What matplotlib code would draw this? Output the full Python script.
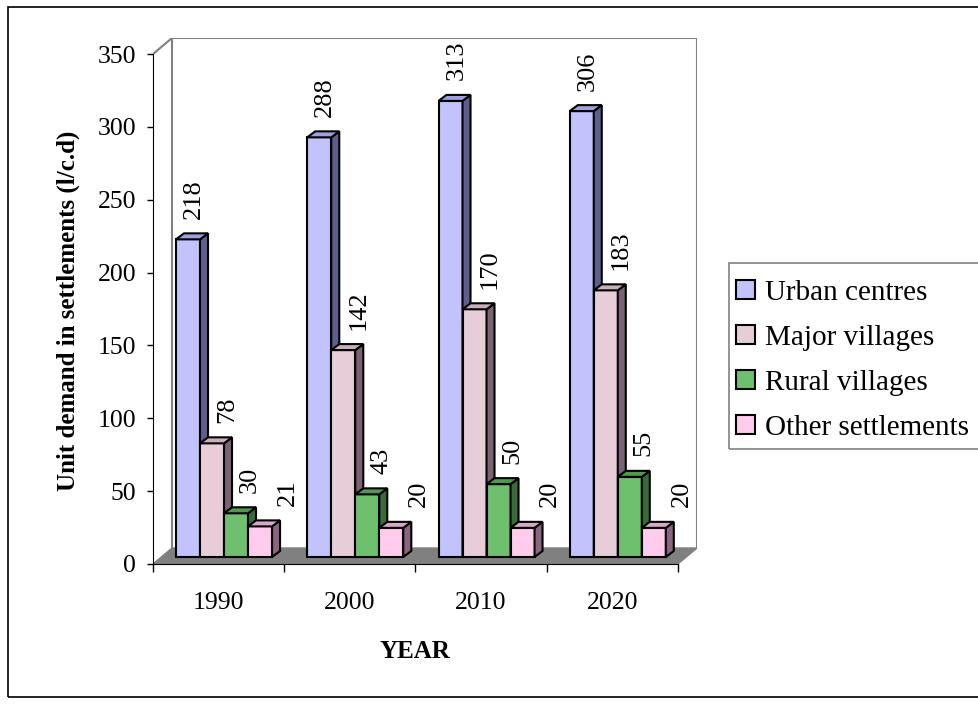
import matplotlib
matplotlib.use("Agg")
import matplotlib.pyplot as plt
from matplotlib.patches import Polygon, Rectangle, Patch

# ---- data -------------------------------------------------------------
years = ["1990", "2000", "2010", "2020"]
series_names = ["Urban centres", "Major villages", "Rural villages", "Other settlements"]
urban_centres = [218, 288, 313, 306]
major_villages = [78, 142, 170, 183]
rural_villages = [30, 43, 50, 55]
other_settlements = [21, 20, 20, 20]
y_ticks = [0, 50, 100, 150, 200, 250, 300, 350]

series_values = [urban_centres, major_villages, rural_villages, other_settlements]

# ---- style ------------------------------------------------------------
SERIF = "Liberation Serif"
front_colors = ["#C2C2FC", "#E6CDD8", "#6EBF6E", "#FFCCEE"]
side_colors = ["#5F5F8F", "#7A6272", "#3A6A3A", "#8A6480"]
top_colors = ["#A0A0DC", "#C9AEBB", "#4F9A4F", "#D9A8C8"]
label_nudge = [0.015, 0.085, 0.075, 0.18]   # horizontal nudge of value labels (category units)

W, H = 979, 704
fig = plt.figure(figsize=(W / 100, H / 100), dpi=100)
fig.patch.set_facecolor("white")

# plot area (pixel box of the 3-D frame)
left_px, right_px, top_px, bottom_px = 153, 697, 38, 564
ax = fig.add_axes([left_px / W, (H - bottom_px) / H,
                   (right_px - left_px) / W, (bottom_px - top_px) / H])

n_cat = len(years)
ymax = y_ticks[-1]
cat_px = 131.2
unit_px = 1.457
DX = 19 / cat_px          # depth of the floor / walls
DY = 16 / unit_px
BW = 24 / cat_px          # bar width
BX = 23 / cat_px          # offset of the first bar in a group
BY = 7 / unit_px          # bars stand in the middle of the floor
DDX = 8 / cat_px          # depth of each bar
DDY = 6 / unit_px

ax.set_xlim(0, n_cat + DX)
ax.set_ylim(0, ymax + DY)
ax.patch.set_alpha(0)

grey = "#808080"
# floor
ax.add_patch(Polygon([(0, 0), (n_cat, 0), (n_cat + DX, DY), (DX, DY)],
                     closed=True, facecolor=grey, edgecolor=grey, lw=1, zorder=1))
# back wall
ax.plot([DX, DX, n_cat + DX, n_cat + DX], [DY, ymax + DY, ymax + DY, DY],
        color=grey, lw=1.5, zorder=1, solid_joinstyle="miter")
ax.plot([0, DX], [ymax, ymax + DY], color=grey, lw=1.5, zorder=1)

# bars: front faces through ax.bar, side and top faces from the same values
for i in range(n_cat):
    for j, vals in enumerate(series_values):
        v = vals[i]
        x0 = i + BX + j * BW
        z = 3 + j
        ax.bar(x0, v, width=BW, bottom=BY, align="edge",
               facecolor=front_colors[j], edgecolor="black", lw=1.5, zorder=z)
        top = BY + v
        ax.add_patch(Polygon([(x0 + BW, BY), (x0 + BW + DDX, BY + DDY),
                              (x0 + BW + DDX, top + DDY), (x0 + BW, top)],
                             closed=True, facecolor=side_colors[j],
                             edgecolor="black", lw=1.5, zorder=z))
        ax.add_patch(Polygon([(x0, top), (x0 + BW, top),
                              (x0 + BW + DDX, top + DDY), (x0 + DDX, top + DDY)],
                             closed=True, facecolor=top_colors[j],
                             edgecolor="black", lw=1.5, zorder=z))
        ax.text(x0 + (BW + DDX) / 2 + label_nudge[j], top + DDY + 10, f"{v}",
                rotation=90, ha="center", va="bottom", fontfamily=SERIF,
                fontsize=19, zorder=10)

# axes lines and ticks
for s in ["top", "right"]:
    ax.spines[s].set_visible(False)
ax.spines["left"].set_bounds(0, ymax)
ax.spines["bottom"].set_bounds(0, n_cat)
ax.spines["left"].set_zorder(2)
ax.spines["bottom"].set_zorder(2)
ax.set_yticks(y_ticks)
ax.set_yticklabels([str(t) for t in y_ticks], fontfamily=SERIF, fontsize=18.5)
ax.tick_params(axis="y", direction="out", length=4, width=1, pad=8)
ax.set_xticks([i + 0.5 for i in range(n_cat)])
ax.set_xticklabels(years, fontfamily=SERIF, fontsize=18.5)
ax.set_xticks(range(n_cat + 1), minor=True)
ax.tick_params(axis="x", which="major", length=0, pad=20)
ax.tick_params(axis="x", which="minor", direction="out", length=6, width=1)

ax.set_ylabel("Unit demand in settlements (l/c.d)", fontfamily=SERIF,
              fontsize=18, fontweight="bold")
ax.yaxis.set_label_coords(-(153 - 68) / (right_px - left_px), (bottom_px - 311) / (bottom_px - top_px))
ax.set_xlabel("YEAR", fontfamily=SERIF, fontsize=18, fontweight="bold")
ax.xaxis.set_label_coords(((left_px + 677) / 2 - left_px) / (right_px - left_px),
                          -(652 - bottom_px) / (bottom_px - top_px))
ax.xaxis.label.set_va("center")
ax.yaxis.label.set_va("center")

# legend
handles = [Patch(facecolor=c, edgecolor="black", lw=1.5) for c in front_colors]
fig.legend(handles, series_names, loc="upper left",
           bbox_to_anchor=(736 / W, (H - 280) / H), frameon=False,
           prop={"family": SERIF, "size": 21}, handlelength=0.65,
           handleheight=0.65, handletextpad=0.35, labelspacing=0.65,
           borderpad=0, borderaxespad=0)
fig.patches.append(Rectangle((729 / W, (H - 449) / H), (995 - 729) / W, (449 - 263) / H,
                             transform=fig.transFigure, fill=False,
                             edgecolor=grey, lw=1.2))

# chart-area border
fig.patches.append(Rectangle((8 / W, (H - 697) / H), (995 - 8) / W, (697 - 7) / H,
                             transform=fig.transFigure, fill=False,
                             edgecolor="black", lw=1.2))

fig.savefig("out.png", dpi=100)
